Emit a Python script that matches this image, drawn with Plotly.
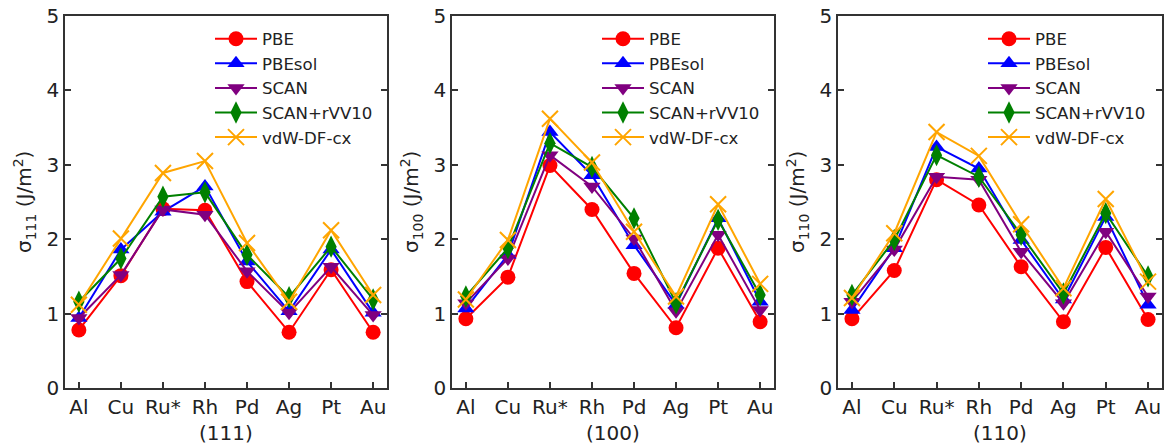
import plotly.graph_objects as go

metals = ["Al", "Cu", "Ru*", "Rh", "Pd", "Ag", "Pt", "Au"]
series_names = ["PBE", "PBEsol", "SCAN", "SCAN+rVV10", "vdW-DF-cx"]
facets = ["(111)", "(100)", "(110)"]
ylabels = ["σ<sub>111</sub> (J/m<sup>2</sup>)", "σ<sub>100</sub> (J/m<sup>2</sup>)", "σ<sub>110</sub> (J/m<sup>2</sup>)"]

# (111)
pbe_111 = [0.78, 1.51, 2.41, 2.39, 1.43, 0.75, 1.59, 0.75]
pbesol_111 = [0.94, 1.86, 2.37, 2.71, 1.70, 1.03, 1.86, 1.01]
scan_111 = [0.94, 1.52, 2.40, 2.33, 1.57, 1.01, 1.63, 0.98]
rvv10_111 = [1.16, 1.74, 2.57, 2.63, 1.79, 1.22, 1.90, 1.19]
vdw_111 = [1.12, 2.01, 2.89, 3.05, 1.95, 1.16, 2.12, 1.25]

# (100)
pbe_100 = [0.93, 1.49, 2.99, 2.40, 1.54, 0.81, 1.88, 0.89]
pbesol_100 = [1.07, 1.79, 3.44, 2.86, 1.92, 1.12, 2.28, 1.16]
scan_100 = [1.14, 1.74, 3.13, 2.71, 2.01, 1.03, 2.06, 1.05]
rvv10_100 = [1.23, 1.88, 3.29, 2.97, 2.28, 1.14, 2.26, 1.25]
vdw_100 = [1.19, 1.99, 3.62, 3.03, 2.10, 1.23, 2.47, 1.40]

# (110)
pbe_110 = [0.93, 1.58, 2.80, 2.46, 1.63, 0.89, 1.89, 0.92]
pbesol_110 = [1.05, 1.88, 3.24, 2.95, 1.99, 1.19, 2.30, 1.12]
scan_110 = [1.16, 1.86, 2.84, 2.80, 1.83, 1.14, 2.10, 1.23]
rvv10_110 = [1.25, 1.99, 3.13, 2.84, 2.06, 1.27, 2.35, 1.50]
vdw_110 = [1.21, 2.08, 3.44, 3.12, 2.20, 1.34, 2.54, 1.43]

panels = [
    [pbe_111, pbesol_111, scan_111, rvv10_111, vdw_111],
    [pbe_100, pbesol_100, scan_100, rvv10_100, vdw_100],
    [pbe_110, pbesol_110, scan_110, rvv10_110, vdw_110],
]

colors = ["#ff0000", "#0000ff", "#800080", "#008000", "#ffa500"]
symbols = ["circle", "triangle-up", "triangle-down", "diamond-tall", "x-thin"]
sizes = [15, 15, 15, 16, 16]

W, H = 1164, 448
px_domains = [(65, 387), (452, 774), (838, 1162)]
top_px, bot_px = 16, 388
FONT = "DejaVu Sans"

fig = go.Figure()
xs = list(range(len(metals)))
legend_keys = ["legend", "legend2", "legend3"]

for p, data in enumerate(panels):
    ax = "" if p == 0 else str(p + 1)
    for s, vals in enumerate(data):
        marker = dict(symbol=symbols[s], size=sizes[s], color=colors[s])
        if symbols[s] == "x-thin":
            marker["line"] = dict(color=colors[s], width=2)
        else:
            marker["line"] = dict(width=0)
        fig.add_trace(go.Scatter(
            x=xs, y=vals, mode="lines+markers", name=series_names[s],
            line=dict(color=colors[s], width=2), marker=marker,
            xaxis="x" + ax, yaxis="y" + ax, legend=legend_keys[p],
            showlegend=True,
        ))

layout = dict(
    width=W, height=H, margin=dict(l=0, r=0, t=0, b=0),
    paper_bgcolor="white", plot_bgcolor="white",
    font=dict(family=FONT, size=20, color="#222222"),
    showlegend=True, template="none",
)

annotations = []
for p in range(3):
    ax = "" if p == 0 else str(p + 1)
    x0, x1 = px_domains[p]
    layout["xaxis" + ax] = dict(
        domain=[x0 / W, x1 / W], range=[-0.33, 7.33],
        tickvals=xs, ticktext=metals, ticks="inside", ticklen=6, tickwidth=1.5,
        tickcolor="#333333", showline=True, linecolor="#333333", linewidth=1.5,
        mirror=True, showgrid=False, zeroline=False, automargin=False,
        tickfont=dict(family=FONT, size=20, color="#222222"),
        anchor="y" + ax, fixedrange=True,
    )
    layout["yaxis" + ax] = dict(
        domain=[1 - bot_px / H, 1 - top_px / H], range=[0, 5],
        tickvals=[0, 1, 2, 3, 4, 5], ticks="inside", ticklen=6, tickwidth=1.5,
        tickcolor="#333333", showline=True, linecolor="#333333", linewidth=1.5,
        mirror="ticks", showgrid=False, zeroline=False, automargin=False,
        tickfont=dict(family=FONT, size=20, color="#222222"),
        anchor="x" + ax, fixedrange=True,
    )
    annotations.append(dict(
        text=facets[p], x=((x0 + x1) / 2) / W, y=1 - 433 / H, xref="paper", yref="paper",
        showarrow=False, font=dict(family=FONT, size=20, color="#222222"),
        xanchor="center", yanchor="middle",
    ))
    annotations.append(dict(
        text=ylabels[p], x=(x0 - 41) / W, y=1 - ((top_px + bot_px) / 2) / H,
        xref="paper", yref="paper", showarrow=False, textangle=-90,
        font=dict(family=FONT, size=20, color="#222222"),
        xanchor="center", yanchor="middle",
    ))
    layout[legend_keys[p]] = dict(
        x=(x0 + 145) / W, y=1 - 21.5 / H, xanchor="left", yanchor="top",
        bgcolor="rgba(0,0,0,0)", borderwidth=0, itemwidth=42,
        font=dict(family=FONT, size=16.6, color="#222222"),
        tracegroupgap=0,
    )

layout["annotations"] = annotations
fig.update_layout(**layout)
fig.write_html(
    "out.html",
    config={"displayModeBar": False},
    post_script="document.body.style.margin='0';document.body.style.padding='0';document.body.style.overflow='hidden';",
)
